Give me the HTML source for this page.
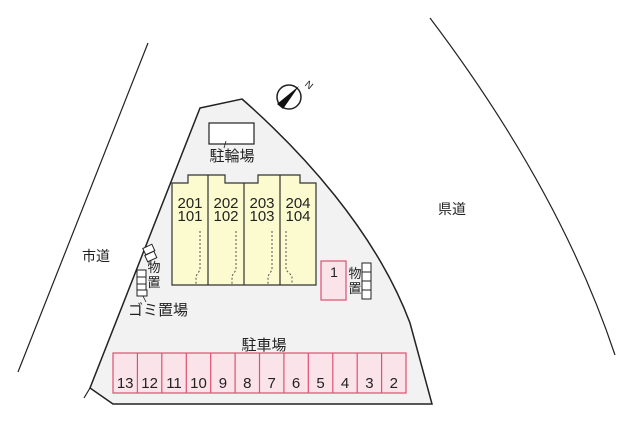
<!DOCTYPE html>
<html><head><meta charset="utf-8"><style>
html,body{margin:0;padding:0;background:#fff;}
svg{display:block;}
text{font-family:"Liberation Sans","Noto Sans CJK JP",sans-serif;fill:#222;}
</style></head><body>
<svg width="640" height="427" viewBox="0 0 640 427" xmlns="http://www.w3.org/2000/svg">
<line x1="148" y1="43" x2="18" y2="372" stroke="#222" stroke-width="1.2"/>
<path d="M430 18 Q560 190 615 355" fill="none" stroke="#222" stroke-width="1.2"/>
<path d="M200 108 L242 99 C300 150 375 230 410 323 L432 404 L113 404 L90 388 Z" fill="#f2f2f2" stroke="#222" stroke-width="1.5"/>
<line x1="90" y1="388" x2="84" y2="398" stroke="#222" stroke-width="1.2"/>
<circle cx="289" cy="97" r="12" fill="#fff" stroke="#222" stroke-width="1.5"/>
<path d="M299 86 L277 104 L283 109 Z" fill="#111"/>
<text x="306" y="86" font-size="10" transform="rotate(40 306 83)">N</text>
<rect x="209" y="123" width="45" height="21" fill="#fff" stroke="#222" stroke-width="1.2"/>
<line x1="226" y1="141" x2="224" y2="148" stroke="#222" stroke-width="0.8"/>
<text x="232" y="161" font-size="15" text-anchor="middle">駐輪場</text>
<path d="M172 183 L188 183 L188 175 L208 175 L225 175 L225 183 L244 183 L258 183 L258 175 L280 175 L300 175 L300 183 L316 183 L316 285 L172 285 Z" fill="#fbfbcf" stroke="#333" stroke-width="1.2"/>
<g stroke="#333" stroke-width="1.2">
<line x1="208" y1="175" x2="208" y2="285"/><line x1="244" y1="183" x2="244" y2="285"/><line x1="280" y1="175" x2="280" y2="285"/>
</g>
<g fill="none" stroke="#555" stroke-width="1" stroke-dasharray="2,2">
<path d="M200 231 L200 270 L196 276 L196 285"/>
<path d="M236 231 L236 270 L232 276 L232 285"/>
<path d="M272 231 L272 270 L268 276 L268 285"/>
<path d="M286 231 L286 270 L292 276 L292 285"/>
</g>
<g font-size="15" text-anchor="middle">
<text x="190" y="208">201</text><text x="190" y="221">101</text>
<text x="226" y="208">202</text><text x="226" y="221">102</text>
<text x="262" y="208">203</text><text x="262" y="221">103</text>
<text x="298" y="208">204</text><text x="298" y="221">104</text>
</g>
<rect x="321" y="261" width="25" height="39" fill="#fbe3ea" stroke="#e05070" stroke-width="1.2"/>
<text x="334" y="277" font-size="14" text-anchor="middle">1</text>
<g fill="#fff" stroke="#222" stroke-width="1">
<rect x="362" y="263" width="9" height="9"/><rect x="362" y="272" width="9" height="9"/><rect x="362" y="281" width="9" height="9"/><rect x="362" y="290" width="9" height="9"/>
</g>
<text x="355" y="278" font-size="13" text-anchor="middle">物</text>
<text x="355" y="293" font-size="13" text-anchor="middle">置</text>
<g fill="#fff" stroke="#222" stroke-width="1">
<rect x="144" y="246" width="10" height="7" transform="rotate(-25 149 250)"/>
<rect x="146" y="253" width="10" height="7" transform="rotate(-25 151 257)"/>
<rect x="137" y="270" width="9" height="7"/><rect x="137" y="277" width="9" height="7"/><rect x="137" y="284" width="9" height="6"/>
<rect x="137" y="290" width="10" height="6"/>
</g>
<line x1="143" y1="296" x2="146" y2="302" stroke="#222" stroke-width="0.8"/>
<text x="154" y="272" font-size="13" text-anchor="middle">物</text>
<text x="154" y="287" font-size="13" text-anchor="middle">置</text>
<text x="158" y="315" font-size="15" text-anchor="middle">ゴミ置場</text>
<text x="96" y="261" font-size="14" text-anchor="middle">市道</text>
<text x="452" y="214" font-size="14" text-anchor="middle">県道</text>
<text x="264" y="350" font-size="15" text-anchor="middle">駐車場</text>
<rect x="113" y="353" width="293" height="40" fill="#fbe3ea" stroke="#e05070" stroke-width="1.2"/>
<g stroke="#e05070" stroke-width="1.2">
<line x1="137.4" y1="353" x2="137.4" y2="393"/><line x1="161.8" y1="353" x2="161.8" y2="393"/><line x1="186.3" y1="353" x2="186.3" y2="393"/><line x1="210.7" y1="353" x2="210.7" y2="393"/><line x1="235.1" y1="353" x2="235.1" y2="393"/><line x1="259.5" y1="353" x2="259.5" y2="393"/><line x1="283.9" y1="353" x2="283.9" y2="393"/><line x1="308.3" y1="353" x2="308.3" y2="393"/><line x1="332.8" y1="353" x2="332.8" y2="393"/><line x1="357.2" y1="353" x2="357.2" y2="393"/><line x1="381.6" y1="353" x2="381.6" y2="393"/>
</g>
<g font-size="15" text-anchor="middle">
<text x="125.2" y="388">13</text><text x="149.6" y="388">12</text><text x="174" y="388">11</text><text x="198.5" y="388">10</text><text x="222.9" y="388">9</text><text x="247.3" y="388">8</text><text x="271.7" y="388">7</text><text x="296.1" y="388">6</text><text x="320.5" y="388">5</text><text x="345" y="388">4</text><text x="369.4" y="388">3</text><text x="393.8" y="388">2</text>
</g>
</svg>
</body></html>
